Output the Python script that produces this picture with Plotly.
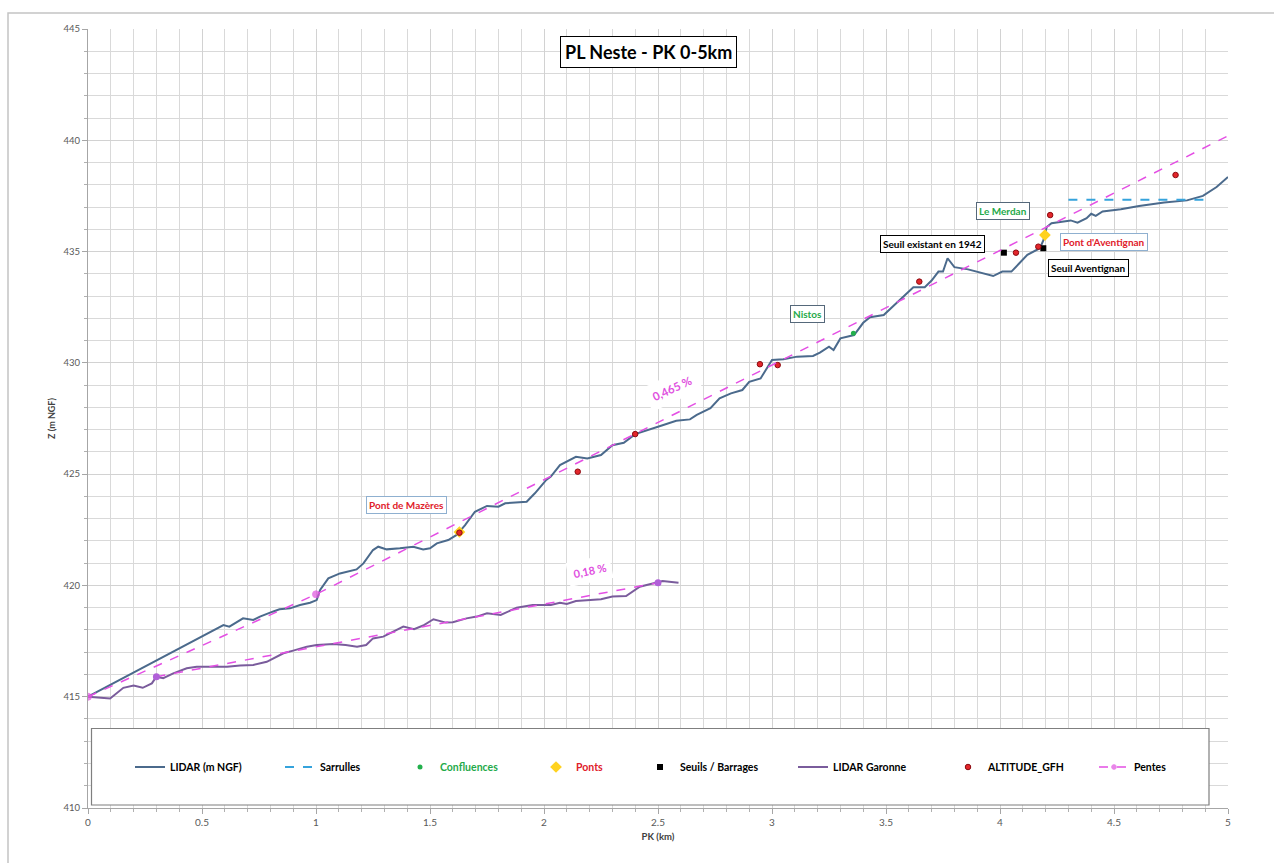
import plotly.graph_objects as go

# ---------------- data ----------------
lidar_pk = [0.00, 0.594, 0.62, 0.68, 0.725, 0.754, 0.81, 0.84, 0.886, 0.93, 0.974, 1.003, 1.018,
            1.054, 1.105, 1.178, 1.208, 1.25, 1.273, 1.31, 1.368, 1.427, 1.47, 1.50, 1.53, 1.58,
            1.617, 1.653, 1.697, 1.75, 1.80, 1.83, 1.924, 1.96, 2.01, 2.03, 2.07, 2.14, 2.19, 2.25,
            2.30, 2.35, 2.40, 2.465, 2.52, 2.58, 2.64, 2.67, 2.73, 2.77, 2.82, 2.87, 2.90, 2.95,
            2.98, 3.00, 3.05, 3.11, 3.18, 3.21, 3.25, 3.27, 3.30, 3.36, 3.40, 3.43, 3.49, 3.56,
            3.62, 3.67, 3.70, 3.73, 3.75, 3.77, 3.80, 3.86, 3.97, 4.01, 4.05, 4.12, 4.175, 4.19,
            4.205, 4.226, 4.25, 4.31, 4.34, 4.38, 4.40, 4.42, 4.45, 4.53, 4.61, 4.72, 4.82, 4.89,
            4.95, 5.00]
lidar_z = [415.00, 418.22, 418.15, 418.52, 418.45, 418.60, 418.82, 418.93, 418.97, 419.12, 419.22,
           419.34, 419.80, 420.32, 420.54, 420.72, 420.99, 421.59, 421.74, 421.62, 421.67, 421.74,
           421.62, 421.67, 421.89, 422.04, 422.27, 422.70, 423.31, 423.57, 423.54, 423.69, 423.76,
           424.14, 424.74, 424.89, 425.41, 425.78, 425.70, 425.86, 426.30, 426.41, 426.80, 427.00,
           427.20, 427.40, 427.46, 427.66, 427.96, 428.41, 428.63, 428.78, 429.15, 429.30, 429.83,
           430.13, 430.16, 430.28, 430.31, 430.46, 430.73, 430.58, 431.10, 431.25, 431.80, 432.05,
           432.15, 432.80, 433.40, 433.40, 433.70, 434.10, 434.10, 434.70, 434.30, 434.20, 433.90,
           434.10, 434.10, 434.85, 435.15, 435.50, 436.10, 436.27, 436.30, 436.40, 436.30, 436.50,
           436.70, 436.60, 436.80, 436.90, 437.05, 437.20, 437.30, 437.50, 437.90, 438.35]

garonne_pk = [0.00, 0.097, 0.155, 0.20, 0.24, 0.28, 0.30, 0.33, 0.374, 0.433, 0.477, 0.55, 0.61,
              0.667, 0.725, 0.784, 0.857, 0.90, 0.96, 1.003, 1.076, 1.13, 1.18, 1.22, 1.25, 1.295,
              1.34, 1.383, 1.43, 1.47, 1.515, 1.57, 1.60, 1.66, 1.705, 1.75, 1.81, 1.88, 1.95, 2.03,
              2.07, 2.10, 2.14, 2.19, 2.25, 2.30, 2.36, 2.42, 2.48, 2.52, 2.59]
garonne_z = [415.00, 414.92, 415.40, 415.50, 415.40, 415.60, 415.90, 415.83, 416.05, 416.28, 416.35,
             416.35, 416.35, 416.40, 416.43, 416.57, 416.95, 417.07, 417.25, 417.32, 417.37, 417.32,
             417.25, 417.32, 417.62, 417.70, 417.92, 418.15, 418.03, 418.20, 418.48, 418.33, 418.35,
             418.52, 418.60, 418.75, 418.67, 419.00, 419.12, 419.12, 419.22, 419.17, 419.30, 419.35,
             419.38, 419.50, 419.52, 419.94, 420.10, 420.20, 420.12]

sarrulles_pk = [4.30, 4.90]
sarrulles_z = [437.33, 437.33]

confluences_pk = [3.357]
confluences_z = [431.33]

ponts_pk = [1.629, 4.197]
ponts_z = [422.40, 435.74]

seuils_pk = [4.017, 4.190]
seuils_z = [434.95, 435.15]

gfh_pk = [1.629, 2.148, 2.400, 2.947, 3.025, 3.646, 4.070, 4.168, 4.220, 4.770]
gfh_z = [422.37, 425.11, 426.80, 429.94, 429.90, 433.65, 434.95, 435.22, 436.64, 438.44]

pente_neste_pk = [0.0, 1.0, 5.0]
pente_neste_z = [415.0, 419.6, 440.2]
pente_garonne_pk = [0.30, 2.50]
pente_garonne_z = [415.9, 420.12]

series_names = ["LIDAR (m NGF)", "Sarrulles", "Confluences", "Ponts", "Seuils / Barrages",
                "LIDAR Garonne", "ALTITUDE_GFH", "Pentes"]
title_text = "PL Neste - PK 0-5km"
label_texts = ["Le Merdan", "Seuil existant en 1942", "Pont d'Aventignan", "Seuil Aventignan",
               "Nistos", "Pont de Mazères"]
slope_texts = ["0,465 %", "0,18 %"]

# ---------------- figure ----------------
FONT = "Lato, 'Noto Sans', sans-serif"
fig = go.Figure()

fig.add_trace(go.Scatter(x=lidar_pk, y=lidar_z, mode="lines", name=series_names[0],
                         line=dict(color="#4b6a8c", width=2), legend="legend"))
fig.add_trace(go.Scatter(x=sarrulles_pk, y=sarrulles_z, mode="lines", name=series_names[1],
                         line=dict(color="#35a3dc", width=2, dash="dash"), legend="legend2"))
fig.add_trace(go.Scatter(x=confluences_pk, y=confluences_z, mode="markers", name=series_names[2],
                         marker=dict(color="#22b04c", size=5), legend="legend3"))
fig.add_trace(go.Scatter(x=ponts_pk, y=ponts_z, mode="markers", name=series_names[3],
                         marker=dict(color="#ffd21f", size=9, symbol="diamond"), legend="legend4"))
fig.add_trace(go.Scatter(x=seuils_pk, y=seuils_z, mode="markers", name=series_names[4],
                         marker=dict(color="#000000", size=6, symbol="square"), legend="legend5"))
fig.add_trace(go.Scatter(x=garonne_pk, y=garonne_z, mode="lines", name=series_names[5],
                         line=dict(color="#7a5c9c", width=2), legend="legend6"))
fig.add_trace(go.Scatter(x=gfh_pk, y=gfh_z, mode="markers", name=series_names[6],
                         marker=dict(color="#e3262b", size=5.5, line=dict(color="#8b0a10", width=1)),
                         legend="legend7"))
fig.add_trace(go.Scatter(x=pente_neste_pk, y=pente_neste_z, mode="lines+markers", name=series_names[7],
                         line=dict(color="#e44fe4", width=1.5, dash="dash"),
                         marker=dict(color="#dd55dd", size=[7, 7, 0]), legend="legend8"))
fig.add_trace(go.Scatter(x=pente_garonne_pk, y=pente_garonne_z, mode="lines+markers", name=series_names[7],
                         line=dict(color="#e44fe4", width=1.5, dash="dash"),
                         marker=dict(color="#b060d8", size=7), showlegend=False, legend="legend8"))

# plot area: x 88..1228 px, y 29..808 px
W, H = 1274, 863
L, R, T, B = 88, 46, 29, 55
pw, ph = W - L - R, H - T - B


def px(x):
    return (x - L) / pw


def py(y):
    return (H - B - y) / ph


legend_text_x = [170, 320, 440, 576, 680, 833, 988, 1134]
legend_colors = ["#000000", "#000000", "#1faa4a", "#e0202a", "#000000", "#000000", "#000000", "#000000"]
legend_layouts = {}
for i, (tx, col) in enumerate(zip(legend_text_x, legend_colors)):
    key = "legend" if i == 0 else f"legend{i + 1}"
    legend_layouts[key] = dict(
        x=px(tx - 40), y=py(767), xanchor="left", yanchor="middle",
        bgcolor="rgba(0,0,0,0)", borderwidth=0, itemwidth=30,
        font=dict(family=FONT, size=10.5, color=col, weight="bold"),
        orientation="h", tracegroupgap=0,
    )

fig.update_layout(
    width=W, height=H,
    margin=dict(l=L, r=R, t=T, b=B),
    paper_bgcolor="white", plot_bgcolor="white",
    font=dict(family=FONT, color="#404040"),
    showlegend=True,
    **legend_layouts,
)

fig.update_xaxes(
    range=[0, 5], tick0=0, dtick=0.5, showgrid=True, gridcolor="#d2d2d2", gridwidth=1,
    minor=dict(dtick=0.1, showgrid=True, gridcolor="#d9d9d9", ticks="outside", ticklen=3,
               tickcolor="#b0b0b0"),
    ticks="outside", ticklen=5, tickcolor="#a6a6a6",
    showline=True, linecolor="#a6a6a6", linewidth=1, zeroline=False,
    tickfont=dict(family=FONT, size=10, color="#595959"),
    title=dict(text="<b>PK (km)</b>", font=dict(family=FONT, size=9.5, color="#404040"), standoff=6),
)
fig.update_yaxes(
    range=[410, 445], tick0=410, dtick=5, showgrid=True, gridcolor="#d2d2d2", gridwidth=1,
    minor=dict(dtick=1, showgrid=True, gridcolor="#d9d9d9", ticks="outside", ticklen=3,
               tickcolor="#b0b0b0"),
    ticks="outside", ticklen=5, tickcolor="#a6a6a6",
    showline=True, linecolor="#a6a6a6", linewidth=1, zeroline=False,
    tickfont=dict(family=FONT, size=9.5, color="#595959"),
    title=dict(text="<b>Z (m NGF)</b>", font=dict(family=FONT, size=9, color="#404040"), standoff=6),
)

# legend frame and outer chart frame
fig.add_shape(type="rect", xref="paper", yref="paper",
              x0=px(91.5), x1=px(1209), y0=py(805), y1=py(728.5),
              line=dict(color="#7f7f7f", width=1.2), fillcolor="white", layer="above")
fig.add_shape(type="rect", xref="paper", yref="paper",
              x0=px(8), x1=px(1300), y0=py(890), y1=py(13),
              line=dict(color="#c4c4c4", width=1.5), fillcolor="rgba(0,0,0,0)", layer="above")

# title box
fig.add_annotation(text="<b>" + title_text + "</b>", xref="paper", yref="paper",
                   x=px(648), y=py(36.5), showarrow=False,
                   font=dict(family=FONT, size=18, color="black"),
                   bgcolor="white", bordercolor="black", borderwidth=1, borderpad=4)

# label boxes (data coordinates)
label_specs = [
    (4.013, 436.82, "#1faa4a", "#55687a"),
    (3.706, 435.36, "#000000", "#000000"),
    (4.454, 435.41, "#e0202a", "#8fb0d0"),
    (4.386, 434.28, "#000000", "#000000"),
    (3.156, 432.20, "#1faa4a", "#55687a"),
    (1.395, 423.61, "#e0202a", "#8fb0d0"),
]
for txt, (lx, ly, fc, bc) in zip(label_texts, label_specs):
    fig.add_annotation(text="<b>" + txt + "</b>", x=lx, y=ly, showarrow=False,
                       font=dict(family=FONT, size=10, color=fc),
                       bgcolor="white", bordercolor=bc, borderwidth=1, borderpad=2)

# slope labels
fig.add_annotation(text="<b>" + slope_texts[0] + "</b>", x=2.561, y=428.87, showarrow=False,
                   textangle=-25, font=dict(family=FONT, size=11.5, color="#e050e0"),
                   bgcolor="white", borderpad=6)
fig.add_annotation(text="<b>" + slope_texts[1] + "</b>", x=2.20, y=420.69, showarrow=False,
                   textangle=-12, font=dict(family=FONT, size=11, color="#e050e0"),
                   bgcolor="white", borderpad=5)

fig.write_html("out.html")
